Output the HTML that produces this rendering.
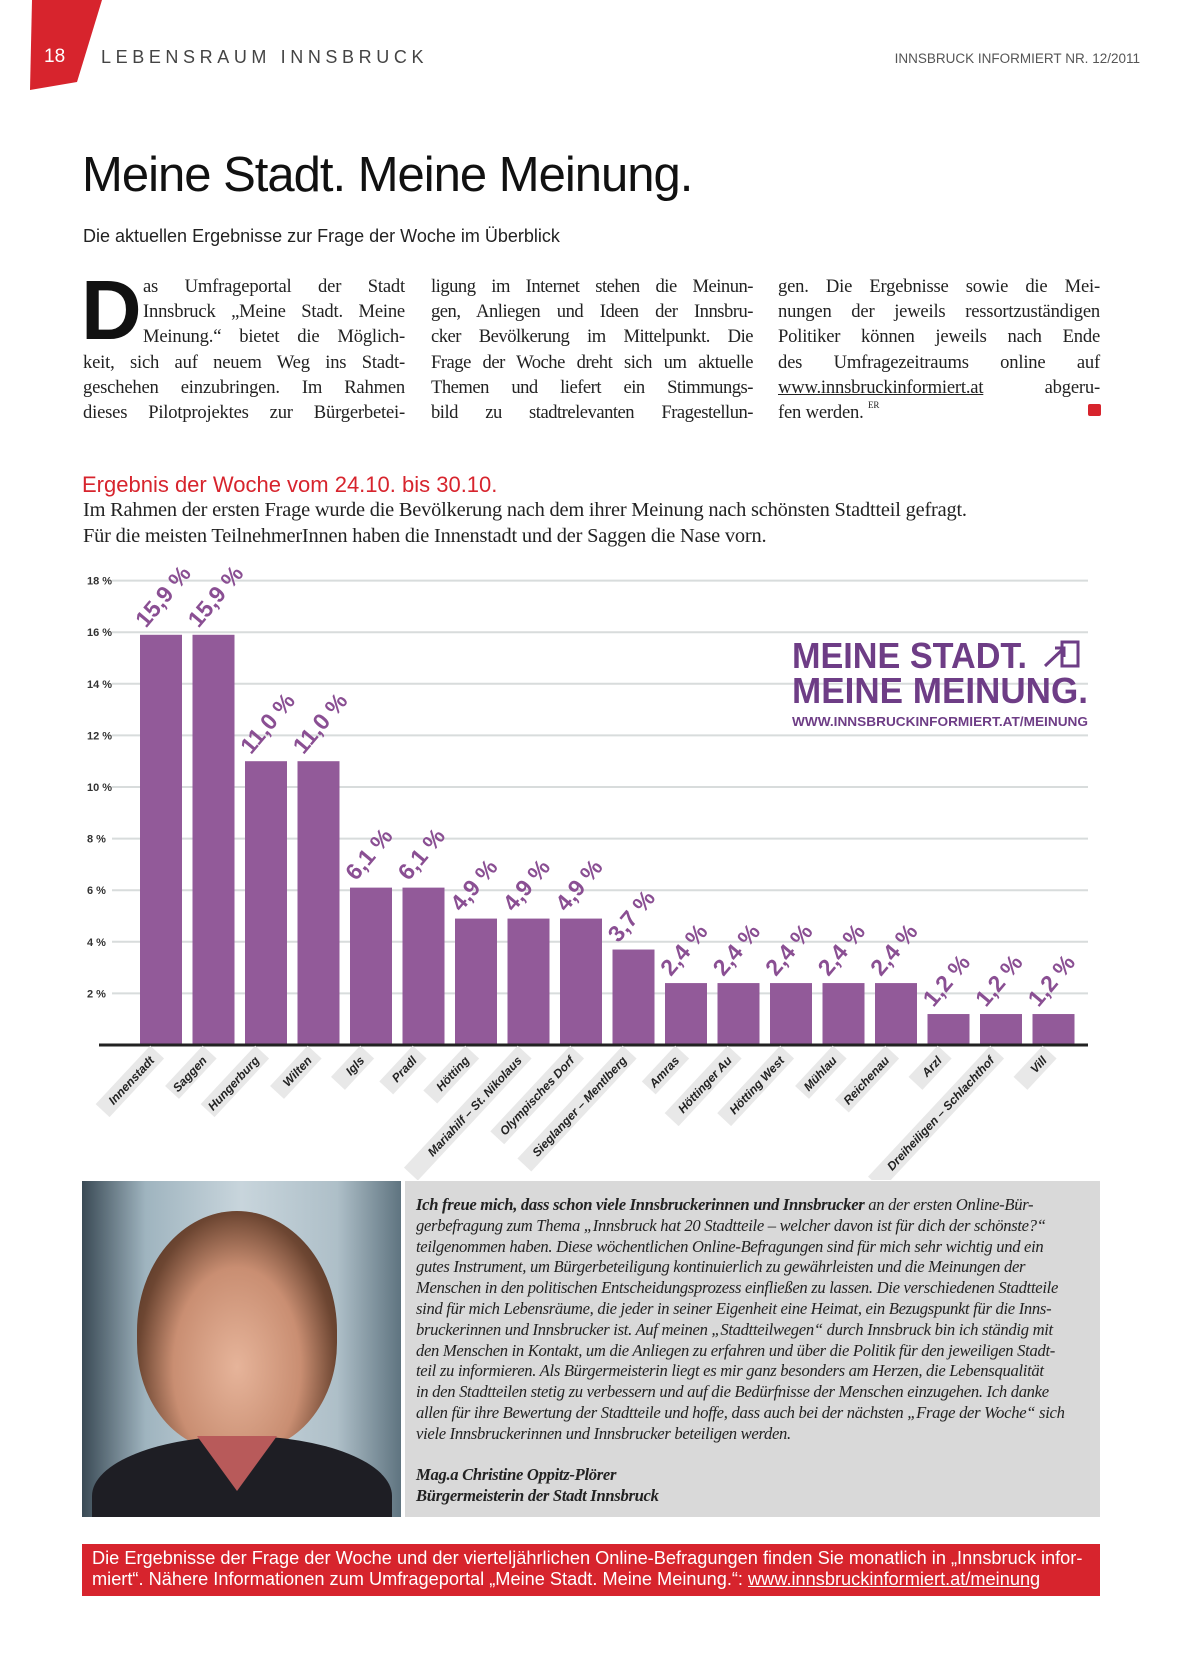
<!DOCTYPE html>
<html><head><meta charset="utf-8">
<style>
*{margin:0;padding:0;box-sizing:border-box}
body{width:1181px;height:1654px;background:#fff;position:relative;overflow:hidden;font-family:"Liberation Sans",sans-serif;color:#1a1a1a}
.abs{position:absolute}
.col{position:absolute;top:274px;width:322px;font-family:"Liberation Serif",serif;font-size:18.6px;line-height:25.2px;color:#222;letter-spacing:-0.2px}
.col span{display:block;text-align:justify;text-align-last:justify;white-space:nowrap;height:25.2px}
.q{position:absolute;left:416px;top:1195px;width:680px;font-family:"Liberation Serif",serif;font-style:italic;font-size:16.6px;line-height:20.8px;color:#222;letter-spacing:-0.3px}
.q div{white-space:nowrap}
</style></head><body>
<svg class="abs" style="left:0;top:0" width="110" height="95"><polygon points="32,0 102,0 77,82 30,90" fill="#d7242d"/></svg>
<div class="abs" style="left:44px;top:46px;color:#fff;font-size:19px">18</div>
<div class="abs" style="left:101px;top:47px;font-size:18px;letter-spacing:4.6px;color:#444">LEBENSRAUM INNSBRUCK</div>
<div class="abs" style="right:41px;top:51px;font-size:13.5px;color:#555">INNSBRUCK INFORMIERT NR. 12/2011</div>

<div class="abs" style="left:82px;top:147px;font-size:49px;letter-spacing:-1px;color:#111">Meine Stadt. Meine Meinung.</div>
<div class="abs" style="left:83px;top:226px;font-size:18px;color:#222">Die aktuellen Ergebnisse zur Frage der Woche im Überblick</div>

<div class="abs" style="left:81px;top:268px;font-size:84px;font-weight:bold;line-height:84px;color:#111">D</div>
<div class="col" style="left:83px">
<span style="margin-left:60px">as Umfrageportal der Stadt</span>
<span style="margin-left:60px">Innsbruck „Meine Stadt. Meine</span>
<span style="margin-left:60px">Meinung.“ bietet die Möglich-</span>
<span>keit, sich auf neuem Weg ins Stadt-</span>
<span>geschehen einzubringen. Im Rahmen</span>
<span>dieses Pilotprojektes zur Bürgerbetei-</span>
</div>
<div class="col" style="left:431px;letter-spacing:-0.5px">
<span>ligung im Internet stehen die Meinun-</span>
<span>gen, Anliegen und Ideen der Innsbru-</span>
<span>cker Bevölkerung im Mittelpunkt. Die</span>
<span>Frage der Woche dreht sich um aktuelle</span>
<span>Themen und liefert ein Stimmungs-</span>
<span>bild zu stadtrelevanten Fragestellun-</span>
</div>
<div class="col" style="left:778px">
<span>gen. Die Ergebnisse sowie die Mei-</span>
<span>nungen der jeweils ressortzuständigen</span>
<span>Politiker können jeweils nach Ende</span>
<span>des Umfragezeitraums online auf</span>
<span><u>www.innsbruckinformiert.at</u> abgeru-</span>
<span style="text-align-last:left">fen werden. <span style="display:inline;font-size:9px;vertical-align:top;line-height:10px">ER</span></span>
</div>
<div class="abs" style="left:1088px;top:404px;width:13px;height:12px;background:#d7242d;border-radius:2px"></div>

<div class="abs" style="left:82px;top:472px;font-size:22px;color:#d7242d">Ergebnis der Woche vom 24.10. bis 30.10.</div>
<div class="abs" style="left:83px;top:498px;font-family:'Liberation Serif',serif;font-size:20.4px;line-height:25.5px;color:#222;letter-spacing:-0.2px">Im Rahmen der ersten Frage wurde die Bevölkerung nach dem ihrer Meinung nach schönsten Stadtteil gefragt.<br>Für die meisten TeilnehmerInnen haben die Innenstadt und der Saggen die Nase vorn.</div>

<svg id="chart" class="abs" style="left:0;top:560px" width="1181" height="620">
<g id="grid"></g><g id="cats"></g><g id="bars"></g>
<g font-family="'Liberation Sans Narrow','Liberation Sans',sans-serif" font-weight="bold" fill="#6e3d86">
<text x="792" y="108" font-size="36" textLength="235" lengthAdjust="spacingAndGlyphs">MEINE STADT.</text>
<text x="792" y="143" font-size="36" textLength="296" lengthAdjust="spacingAndGlyphs">MEINE MEINUNG.</text>
<text x="792" y="166" font-size="13" textLength="296" lengthAdjust="spacingAndGlyphs">WWW.INNSBRUCKINFORMIERT.AT/MEINUNG</text>
<rect x="1062" y="82" width="16" height="24" fill="none" stroke="#6e3d86" stroke-width="3"/>
<path d="M1045 106 L1063 89 M1055 88 L1064 88 L1064 97" stroke="#6e3d86" stroke-width="3" fill="none"/>
</g>
</svg>

<div class="abs" style="left:82px;top:1181px;width:319px;height:336px;background:linear-gradient(90deg,#3a4a55 0%,#9fb4bf 20%,#c8d5dc 50%,#aebfc8 80%,#5f7480 100%);overflow:hidden">
<div style="position:absolute;left:55px;top:30px;width:200px;height:240px;border-radius:50% 50% 45% 45%;background:radial-gradient(ellipse at 50% 65%,#e6b49a 0%,#c98e72 45%,#6d4632 70%,#3a2418 100%)"></div>
<div style="position:absolute;left:10px;top:255px;width:300px;height:120px;border-radius:50% 50% 0 0;background:#1e1e24"></div>
<div style="position:absolute;left:115px;top:255px;width:80px;height:55px;background:#b85a5a;clip-path:polygon(0 0,100% 0,50% 100%)"></div>
</div>
<div class="abs" style="left:405px;top:1181px;width:695px;height:336px;background:#d9d9d9"></div>
<div class="q">
<div><b>Ich freue mich, dass schon viele Innsbruckerinnen und Innsbrucker</b> an der ersten Online-Bür-</div>
<div>gerbefragung zum Thema „Innsbruck hat 20 Stadtteile – welcher davon ist für dich der schönste?“</div>
<div>teilgenommen haben. Diese wöchentlichen Online-Befragungen sind für mich sehr wichtig und ein</div>
<div>gutes Instrument, um Bürgerbeteiligung kontinuierlich zu gewährleisten und die Meinungen der</div>
<div>Menschen in den politischen Entscheidungsprozess einfließen zu lassen. Die verschiedenen Stadtteile</div>
<div>sind für mich Lebensräume, die jeder in seiner Eigenheit eine Heimat, ein Bezugspunkt für die Inns-</div>
<div>bruckerinnen und Innsbrucker ist. Auf meinen „Stadtteilwegen“ durch Innsbruck bin ich ständig mit</div>
<div>den Menschen in Kontakt, um die Anliegen zu erfahren und über die Politik für den jeweiligen Stadt-</div>
<div>teil zu informieren. Als Bürgermeisterin liegt es mir ganz besonders am Herzen, die Lebensqualität</div>
<div>in den Stadtteilen stetig zu verbessern und auf die Bedürfnisse der Menschen einzugehen. Ich danke</div>
<div>allen für ihre Bewertung der Stadtteile und hoffe, dass auch bei der nächsten „Frage der Woche“ sich</div>
<div>viele Innsbruckerinnen und Innsbrucker beteiligen werden.</div>
<div>&nbsp;</div>
<div><b>Mag.a Christine Oppitz-Plörer</b></div>
<div><b>Bürgermeisterin der Stadt Innsbruck</b></div>
</div>

<div class="abs" style="left:82px;top:1544px;width:1018px;height:52px;background:#d7242d;color:#fff;font-size:18.2px;line-height:21px;padding:4px 10px;white-space:nowrap;overflow:hidden">Die Ergebnisse der Frage der Woche und der vierteljährlichen Online-Befragungen finden Sie monatlich in „Innsbruck infor-<br>miert“. Nähere Informationen zum Umfrageportal „Meine Stadt. Meine Meinung.“: <u>www.innsbruckinformiert.at/meinung</u></div>

<script>
const categories=["Innenstadt","Saggen","Hungerburg","Wilten","Igls","Pradl","Hötting","Mariahilf – St. Nikolaus","Olympisches Dorf","Sieglanger – Mentlberg","Amras","Höttinger Au","Hötting West","Mühlau","Reichenau","Arzl","Dreiheiligen – Schlachthof","Vill"];
const values=[15.9,15.9,11.0,11.0,6.1,6.1,4.9,4.9,4.9,3.7,2.4,2.4,2.4,2.4,2.4,1.2,1.2,1.2];
const valueLabels=["15,9 %","15,9 %","11,0 %","11,0 %","6,1 %","6,1 %","4,9 %","4,9 %","4,9 %","3,7 %","2,4 %","2,4 %","2,4 %","2,4 %","2,4 %","1,2 %","1,2 %","1,2 %"];
const ticks=[2,4,6,8,10,12,14,16,18];
const NS="http://www.w3.org/2000/svg";
const base=485, step=25.8; // px per 1%
const y=v=>base-v*step;
const x0=140, pitch=52.5, bw=42;
const x=i=>x0+i*pitch;
function mk(tag,attrs,parent){const e=document.createElementNS(NS,tag);for(const k in attrs)e.setAttribute(k,attrs[k]);parent.appendChild(e);return e;}
const grid=document.getElementById('grid'),bars=document.getElementById('bars'),cats=document.getElementById('cats');
ticks.forEach(t=>{
  const l=mk('line',{x1:112,x2:1088,y1:y(t),y2:y(t),stroke:'#d8dcdc','stroke-width':2},grid);
  
  
  const tx=mk('text',{x:87,y:y(t)+4,'font-size':11,'font-weight':'bold',fill:'#333','font-family':"'Liberation Sans Narrow','Liberation Sans',sans-serif"},grid);
  tx.textContent=t+' %';
  
  
});
const ax=mk('line',{x1:99,x2:1088,y1:base,y2:base,stroke:'#222','stroke-width':3},grid);


values.forEach((v,i)=>{
  const r=mk('rect',{x:x(i),y:y(v),width:bw,height:base-1.5-y(v),fill:'#925a99'},bars);
  
  
  const lx=x(i)+6, ly=y(v)-6;
  const t=mk('text',{x:lx,y:ly,transform:`rotate(-50 ${lx} ${ly})`,'font-size':23,'font-weight':'bold',fill:'#8a4f93','font-family':"'Liberation Sans Narrow','Liberation Sans',sans-serif"},bars);
  t.textContent=valueLabels[i];
  
  
  const cx=x(i)+bw/2-6, cy=base+16;
  const g=mk('g',{transform:`rotate(-47 ${cx} ${cy})`},cats);
  const len=categories[i].length*6.2+18;
  const bg=mk('rect',{x:cx-len+8,y:cy-14,width:len,height:19,fill:'#e8e8e8'},g);
  
  
  const ct=mk('text',{x:cx,y:cy,'text-anchor':'end','font-size':12,'font-weight':'bold','font-style':'italic',fill:'#222'},g);
  ct.textContent=categories[i];
  
  
});
</script>
</body></html>
